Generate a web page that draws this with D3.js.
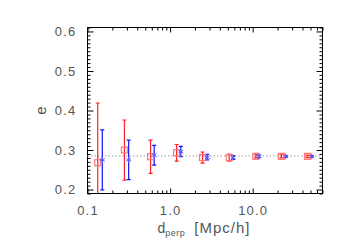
<!DOCTYPE html>
<html>
<head>
<meta charset="utf-8">
<script src="https://cdn.jsdelivr.net/npm/d3@7"></script>
<style>
  body { margin: 0; background: #fff; }
  svg { display: block; }
  text { font-family: "Liberation Sans", Arial, sans-serif; fill: #555; }
</style>
</head>
<body>
<svg width="349" height="249"></svg>
<script>
// values
const redX = [0.133, 0.28, 0.58, 1.2, 2.47, 5.2, 10.9, 22.3, 46.0];
const redE = [0.268, 0.300, 0.283, 0.293, 0.281, 0.281, 0.284, 0.284, 0.284];
const redErr = [0.151, 0.076, 0.042, 0.021, 0.014, 0.009, 0.004, 0.004, 0.003];

const blueX = [0.151, 0.315, 0.642, 1.35, 2.81, 5.79, 11.9, 25.1, 51.9];
const blueE = [0.275, 0.275, 0.287, 0.296, 0.282, 0.281, 0.284, 0.284, 0.284];
const blueErr = [0.076, 0.050, 0.025, 0.013, 0.007, 0.005, 0.003, 0.002, 0.002];

const meanE = 0.285;

const xMajor = [0.1, 1, 10];
const xMajorLabels = ['0.1', '1.0', '10.0'];
const yMajor = [0.2, 0.3, 0.4, 0.5, 0.6];

const svg = d3.select('svg');
const margin = {top: 27.5, right: 26.5, bottom: 55.5, left: 87.5};
const width = 349 - margin.left - margin.right;
const height = 249 - margin.top - margin.bottom;

const g = svg.append('g')
  .attr('transform', 'translate(' + margin.left + ',' + margin.top + ')');

const x = d3.scaleLog().domain([0.1, 70]).range([0, width]);
const y = d3.scaleLinear().domain([0.19, 0.61]).range([height, 0]);

// minor tick values
const xMinor = [];
[0.1, 1, 10].forEach(dec => {
  for (let k = 2; k <= 9; k++) {
    const v = +(dec * k).toFixed(3);
    if (v <= 70) xMinor.push(v);
  }
});
const yMinor = d3.range(19, 62).map(i => i / 100).filter(v => !yMajor.some(m => Math.abs(m - v) < 1e-6));

g.append('clipPath').attr('id', 'plotclip')
  .append('rect').attr('width', width).attr('height', height);

function axisStyle(sel) {
  sel.select('.domain').remove();
  sel.selectAll('line').attr('stroke', '#000');
}

// left axis
g.append('g')
  .call(d3.axisLeft(y).tickValues(yMajor).tickSize(-6).tickPadding(11)
    .tickFormat(d3.format('.1f')))
  .call(axisStyle)
  .selectAll('text').style('font-size', '13px').style('letter-spacing', '1.2px');
g.append('g')
  .call(d3.axisLeft(y).tickValues(yMinor).tickSize(-3).tickFormat(''))
  .call(axisStyle);
// right axis
g.append('g').attr('transform', 'translate(' + width + ',0)')
  .call(d3.axisRight(y).tickValues(yMajor).tickSize(-6).tickFormat(''))
  .call(axisStyle);
g.append('g').attr('transform', 'translate(' + width + ',0)')
  .call(d3.axisRight(y).tickValues(yMinor).tickSize(-3).tickFormat(''))
  .call(axisStyle);

// bottom axis
g.append('g').attr('transform', 'translate(0,' + height + ')')
  .call(d3.axisBottom(x).tickValues(xMajor).tickSize(-5).tickPadding(12)
    .tickFormat((d, i) => xMajorLabels[i]))
  .call(axisStyle)
  .selectAll('text').style('font-size', '13px').style('letter-spacing', '1.2px');
g.append('g').attr('transform', 'translate(0,' + height + ')')
  .call(d3.axisBottom(x).tickValues(xMinor).tickSize(-3).tickFormat(''))
  .call(axisStyle);
// top axis
g.append('g')
  .call(d3.axisTop(x).tickValues(xMajor).tickSize(-5).tickFormat(''))
  .call(axisStyle);
g.append('g')
  .call(d3.axisTop(x).tickValues(xMinor).tickSize(-3).tickFormat(''))
  .call(axisStyle);

// frame
g.append('rect')
  .attr('width', width).attr('height', height)
  .attr('fill', 'none').attr('stroke', '#000').attr('stroke-width', 1);

// mean line
g.append('line')
  .attr('x1', 0).attr('x2', width)
  .attr('y1', y(meanE)).attr('y2', y(meanE))
  .attr('stroke', '#999').attr('stroke-width', 1)
  .attr('stroke-dasharray', '1.5,2');

const plot = g.append('g').attr('clip-path', 'url(#plotclip)');

function drawErrors(xs, es, errs, color) {
  const data = xs.map((d, i) => ({x: d, e: es[i], err: errs[i]}));
  const grp = plot.append('g').attr('stroke', color).attr('stroke-width', 1.2);
  grp.selectAll('.bar').data(data).enter().append('line')
    .attr('x1', d => x(d.x)).attr('x2', d => x(d.x))
    .attr('y1', d => y(d.e - d.err)).attr('y2', d => y(d.e + d.err));
  grp.selectAll('.capTop').data(data).enter().append('line')
    .attr('x1', d => x(d.x) - 2).attr('x2', d => x(d.x) + 2)
    .attr('y1', d => y(d.e + d.err)).attr('y2', d => y(d.e + d.err));
  grp.selectAll('.capBot').data(data).enter().append('line')
    .attr('x1', d => x(d.x) - 2).attr('x2', d => x(d.x) + 2)
    .attr('y1', d => y(d.e - d.err)).attr('y2', d => y(d.e - d.err));
  return data;
}

const redData = drawErrors(redX, redE, redErr, '#ff2020');
const blueData = drawErrors(blueX, blueE, blueErr, '#1010ff');

// red open squares
plot.selectAll('.sq').data(redData).enter().append('rect')
  .attr('x', d => x(d.x) - 3).attr('y', d => y(d.e) - 3)
  .attr('width', 6).attr('height', 6)
  .attr('fill', 'none').attr('stroke', '#ff7777').attr('stroke-width', 1.2);

// blue asterisks
const star = d3.symbol().type(d3.symbolAsterisk).size(22);
plot.selectAll('.star').data(blueData).enter().append('path')
  .attr('transform', d => 'translate(' + x(d.x) + ',' + y(d.e) + ')')
  .attr('d', star)
  .attr('fill', 'none').attr('stroke', '#5a5aff').attr('stroke-width', 1);

// axis titles
svg.append('text')
  .attr('transform', 'translate(46,' + (margin.top + height / 2) + ') rotate(-90)')
  .attr('text-anchor', 'middle')
  .style('font-size', '15px')
  .text('e');

const xt = svg.append('text')
  .attr('x', margin.left + width / 2 - 1).attr('y', 233)
  .attr('text-anchor', 'middle')
  .style('font-size', '14px');
xt.append('tspan').text('d');
xt.append('tspan').attr('dy', 3).style('font-size', '9px').style('letter-spacing', '0.5px').text('perp');
xt.append('tspan').attr('dy', -3).attr('dx', 9).style('font-size', '15px').style('letter-spacing', '1px').text('[Mpc/h]');
</script>
</body>
</html>
